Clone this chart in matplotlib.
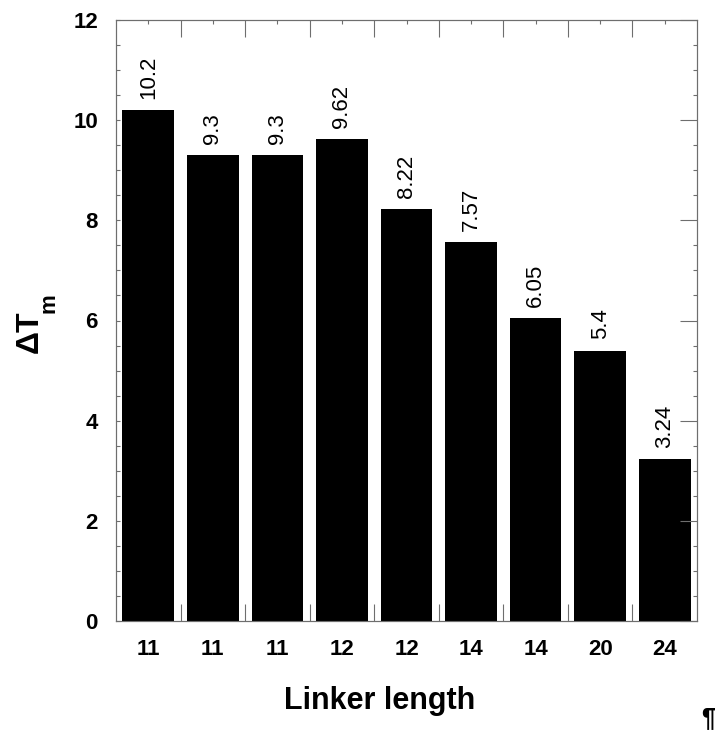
import matplotlib
matplotlib.use("Agg")
import matplotlib.pyplot as plt
from matplotlib.ticker import FixedLocator, MultipleLocator, NullFormatter

plt.rcParams["font.family"] = ["Liberation Sans", "DejaVu Sans"]

# melting temperature shift for each construct
linker_lengths = ["11", "11", "11", "12", "12", "14", "14", "20", "24"]
delta_tm = [10.2, 9.3, 9.3, 9.62, 8.22, 7.57, 6.05, 5.4, 3.24]

spine_color = "#6e6e6e"

fig = plt.figure(figsize=(7.18, 7.34), dpi=100)
ax = fig.add_axes([116 / 718, 1 - 621 / 734, 581 / 718, 601 / 734])

positions = list(range(len(delta_tm)))
bars = ax.bar(positions, delta_tm, width=0.8, color="black", zorder=3)

for bar, value in zip(bars, delta_tm):
    ax.annotate(f"{value:g}", xy=(bar.get_x() + bar.get_width() / 2, value),
                xytext=(0, 8), textcoords="offset points",
                rotation=90, ha="center", va="bottom", fontsize=16)

ax.set_xlim(-0.5, len(delta_tm) - 0.5)
ax.set_ylim(0, 12)

# bar labels sit on minor ticks, boundaries between bars get the long ticks
ax.xaxis.set_major_locator(FixedLocator([p + 0.5 for p in positions[:-1]]))
ax.xaxis.set_major_formatter(NullFormatter())
ax.xaxis.set_minor_locator(FixedLocator(positions))
ax.set_xticks(positions, linker_lengths, minor=True)
ax.tick_params(axis="x", which="major", direction="in", length=12, width=0.8,
               color=spine_color, top=True, bottom=True)
ax.tick_params(axis="x", which="minor", direction="in", length=3, width=0.8,
               color=spine_color, top=True, bottom=True, pad=13)
for label in ax.get_xticklabels(minor=True):
    label.set_fontsize(16)
    label.set_fontweight("bold")

ax.yaxis.set_major_locator(MultipleLocator(2))
ax.yaxis.set_minor_locator(MultipleLocator(0.5))
ax.tick_params(axis="y", which="both", direction="in", length=3, width=0.8,
               color=spine_color, pad=13, left=True, right=False)
for label in ax.get_yticklabels():
    label.set_fontsize(16)
    label.set_fontweight("bold")

# right side carries longer major ticks
ax_r = ax.twinx()
ax_r.set_ylim(ax.get_ylim())
ax_r.yaxis.set_major_locator(MultipleLocator(2))
ax_r.yaxis.set_minor_locator(MultipleLocator(0.5))
ax_r.tick_params(axis="y", which="major", direction="in", length=12, width=0.8,
                 color=spine_color, labelright=False)
ax_r.tick_params(axis="y", which="minor", direction="in", length=3, width=0.8,
                 color=spine_color)

for a in (ax, ax_r):
    a.spines["left"].set_color(spine_color)
    a.spines["left"].set_linewidth(0.8)
    a.spines["bottom"].set_color(spine_color)
    a.spines["bottom"].set_linewidth(0.8)
    for side in ("top", "right"):
        a.spines[side].set_color(spine_color)
        a.spines[side].set_linewidth(0.8)
        a.spines[side].set_linestyle((0, (2, 1)))

# axis titles
fig.text(38 / 718, 1 - 332 / 734, "ΔT", rotation=90, rotation_mode="anchor",
         ha="center", va="baseline", fontsize=23, fontweight="bold")
fig.text(55 / 718, 1 - 303 / 734, "m", rotation=90, rotation_mode="anchor",
         ha="center", va="baseline", fontsize=16, fontweight="bold")
fig.text(380 / 718, 1 - 709 / 734, "Linker length", ha="center", va="baseline",
         fontsize=22, fontweight="bold")
fig.text(701 / 718, 1 - 706 / 734, "¶", ha="left", va="top",
         fontsize=18, fontweight="bold")

fig.savefig("out.png", dpi=100)
plt.close(fig)
